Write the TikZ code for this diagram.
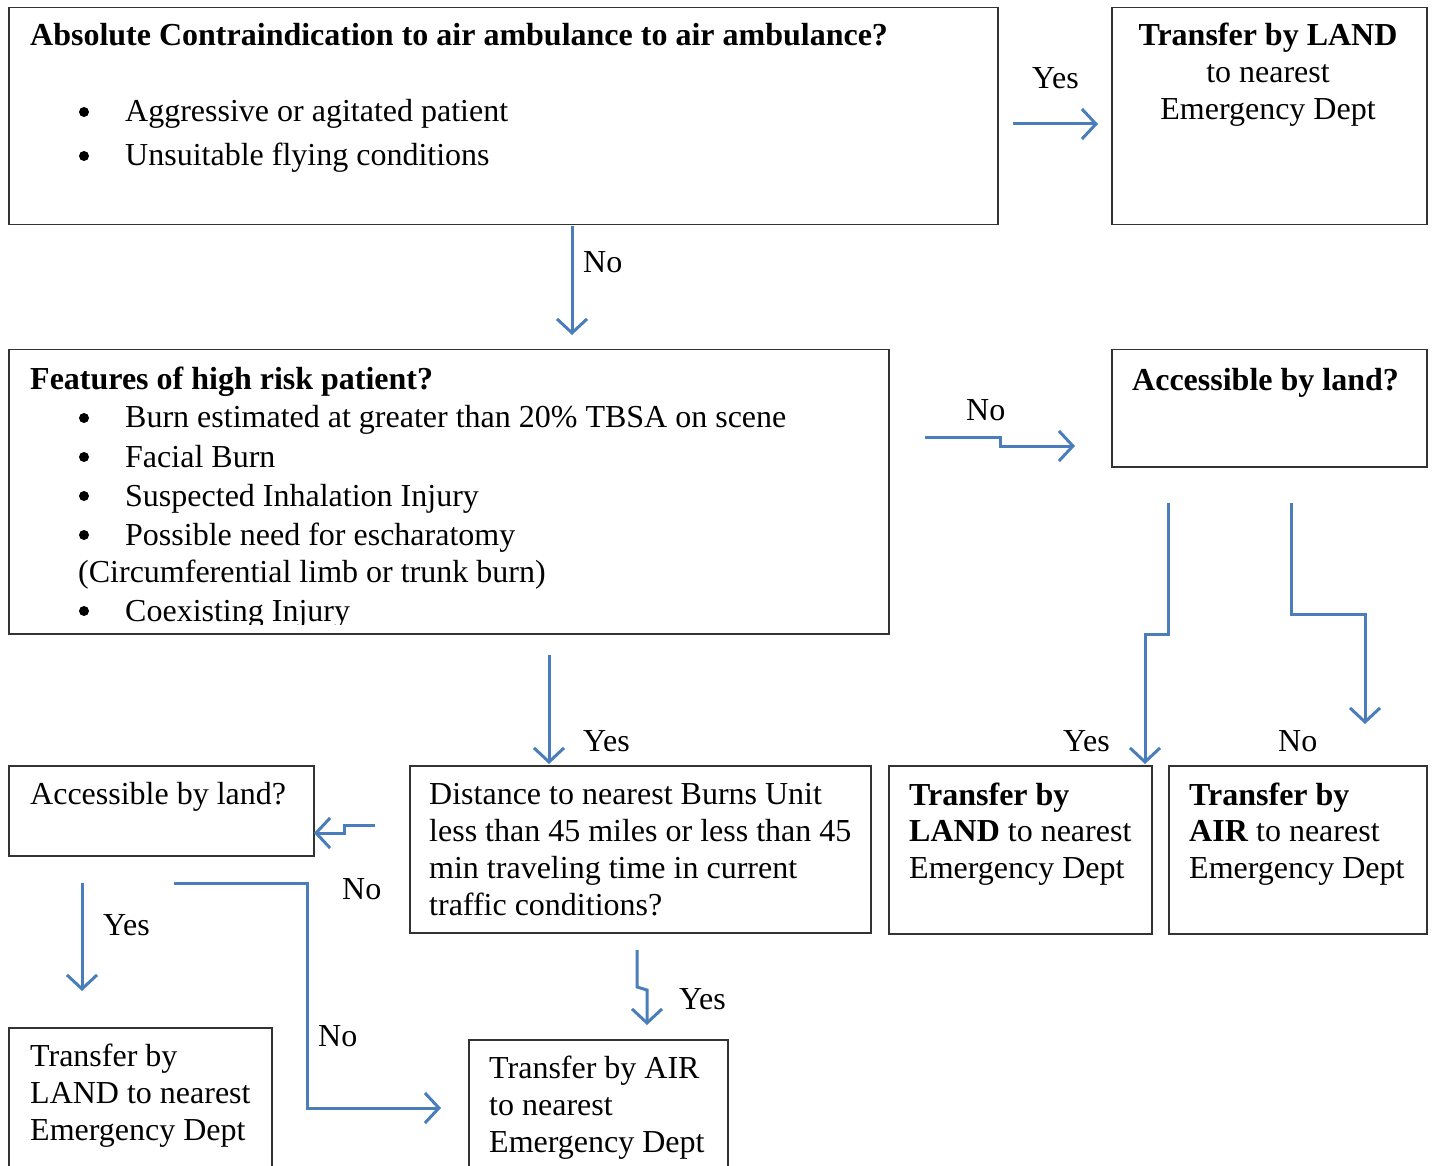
\documentclass[tikz,border=0pt]{standalone}
\usepackage{fontspec}
\setmainfont{Liberation Serif}
\usetikzlibrary{arrows.meta}
\definecolor{arrowblue}{HTML}{4A7EBB}
\definecolor{boxgray}{HTML}{333333}
\begin{document}
\begin{tikzpicture}[x=1pt,y=-1pt,
 box/.style={draw=boxgray, line width=1.5pt, inner sep=0pt, anchor=north west},
 txt/.style={anchor=base west, inner sep=0pt, font=\fontsize{32}{37}\selectfont},
 ctxt/.style={anchor=base, inner sep=0pt, font=\fontsize{32}{37}\selectfont},
 bul/.style={circle, fill=black, inner sep=0pt, minimum size=10pt},
 conn/.style={draw=arrowblue, line width=3pt, -{Straight Barb[length=14pt,width=30pt]}}]
\useasboundingbox[fill=white] (0,0) rectangle (1433,1166);

% boxes
\node[box, minimum width=989pt, minimum height=217pt] (b1) at (8,7) {};
\node[box, minimum width=315pt, minimum height=217pt] (b2) at (1111,7) {};
\node[box, minimum width=880pt, minimum height=284pt] (b3) at (8,349) {};
\node[box, minimum width=315pt, minimum height=117pt] (b4) at (1111,349) {};
\node[box, minimum width=263pt, minimum height=168pt] (b5) at (888,765) {};
\node[box, minimum width=258pt, minimum height=168pt] (b6) at (1168,765) {};
\node[box, minimum width=461pt, minimum height=167pt] (b7) at (409,765) {};
\node[box, minimum width=305pt, minimum height=90pt] (b8) at (8,765) {};
\node[box, minimum width=263pt, minimum height=160pt] (b9) at (8,1027) {};
\node[box, minimum width=259pt, minimum height=150pt] (b10) at (468,1039) {};

% box 1
\node[txt] (t1) at (30,46) {\bfseries Absolute Contraindication to air ambulance to air ambulance?};
\node[bul] (t1a) at (84,112) {};
\node[txt] (t1b) at (125,122) {Aggressive or agitated patient};
\node[bul] (t1c) at (84,156) {};
\node[txt] (t1d) at (125,166) {Unsuitable flying conditions};

% box 2
\node[ctxt] (t2a) at (1268,46) {\bfseries Transfer by LAND};
\node[ctxt] (t2b) at (1268,83) {to nearest};
\node[ctxt] (t2c) at (1268,120) {Emergency Dept};

% box 3
\node[txt] (t3) at (30,389) {\bfseries Features of high risk patient?};
\node[bul] (t3a) at (84,418) {};
\node[txt] (t3b) at (125,428) {Burn estimated at greater than 20\% TBSA on scene};
\node[bul] (t3c) at (84,457) {};
\node[txt] (t3d) at (125,467) {Facial Burn};
\node[bul] (t3e) at (84,496) {};
\node[txt] (t3f) at (125,506) {Suspected Inhalation Injury};
\node[bul] (t3g) at (84,535) {};
\node[txt] (t3h) at (125,545) {Possible need for escharatomy};
\node[txt] (t3i) at (78,582) {(Circumferential limb or trunk burn)};
\node[bul] (t3j) at (84,611) {};
\begin{scope}
\clip (8,560) rectangle (888,624);
\node[txt] (t3k) at (125,621) {Coexisting Injury};
\end{scope}

% box 4
\node[txt] (t4) at (1132,391) {\bfseries Accessible by land?};

% box 5
\node[txt] (t5a) at (909,805) {\bfseries Transfer by};
\node[txt] (t5b) at (909,841) {\textbf{LAND} to nearest};
\node[txt] (t5c) at (909,878) {Emergency Dept};

% box 6
\node[txt] (t6a) at (1189,805) {\bfseries Transfer by};
\node[txt] (t6b) at (1189,841) {\textbf{AIR} to nearest};
\node[txt] (t6c) at (1189,878) {Emergency Dept};

% box 7
\node[txt] (t7a) at (429,804) {Distance to nearest Burns Unit};
\node[txt] (t7b) at (429,841) {less than 45 miles or less than 45};
\node[txt] (t7c) at (429,878) {min traveling time in current};
\node[txt] (t7d) at (429,915) {traffic conditions?};

% box 8
\node[txt] (t8) at (30,804) {Accessible by land?};

% box 9
\node[txt] (t9a) at (30,1066) {Transfer by};
\node[txt] (t9b) at (30,1103) {LAND to nearest};
\node[txt] (t9c) at (30,1140) {Emergency Dept};

% box 10
\node[txt] (t10a) at (489,1078) {Transfer by AIR};
\node[txt] (t10b) at (489,1115) {to nearest};
\node[txt] (t10c) at (489,1152) {Emergency Dept};

% labels
\node[txt] (l1) at (1032,89) {Yes};
\node[txt] (l2) at (583,273) {No};
\node[txt] (l3) at (966,420) {No};
\node[txt] (l4) at (1063,751) {Yes};
\node[txt] (l5) at (1278,751) {No};
\node[txt] (l6) at (583,751) {Yes};
\node[txt] (l7) at (342,899) {No};
\node[txt] (l8) at (103,935) {Yes};
\node[txt] (l9) at (318,1046) {No};
\node[txt] (l10) at (679,1009) {Yes};

% connectors
\coordinate (c1s) at (1013,124); \coordinate (c1e) at (1098,124);
\draw[conn] (c1s) -- (c1e);
\coordinate (c2s) at (572,226); \coordinate (c2e) at (572,335);
\draw[conn] (c2s) -- (c2e);
\coordinate (c3s) at (925,437); \coordinate (c3e) at (1075,446);
\draw[conn] (c3s) -- (1000,437) -- (1000,446) -- (c3e);
\coordinate (c4s) at (1168,503); \coordinate (c4e) at (1145,764);
\draw[conn] (c4s) -- (1168,634) -- (1145,634) -- (c4e);
\coordinate (c5s) at (1291,503); \coordinate (c5e) at (1365,724);
\draw[conn] (c5s) -- (1291,614) -- (1365,614) -- (c5e);
\coordinate (c6s) at (549,655); \coordinate (c6e) at (549,764);
\draw[conn] (c6s) -- (c6e);
\coordinate (c7s) at (375,825); \coordinate (c7e) at (314,833);
\draw[conn] (c7s) -- (344,825) -- (344,833) -- (c7e);
\coordinate (c8s) at (82,883); \coordinate (c8e) at (82,991);
\draw[conn] (c8s) -- (c8e);
\coordinate (c9s) at (174,883); \coordinate (c9e) at (441,1108);
\draw[conn] (c9s) -- (307,883) -- (307,1108) -- (c9e);
\coordinate (c10s) at (637,950); \coordinate (c10e) at (647,1025);
\draw[conn] (c10s) -- (637,987) -- (647,990) -- (c10e);
\end{tikzpicture}
\end{document}
